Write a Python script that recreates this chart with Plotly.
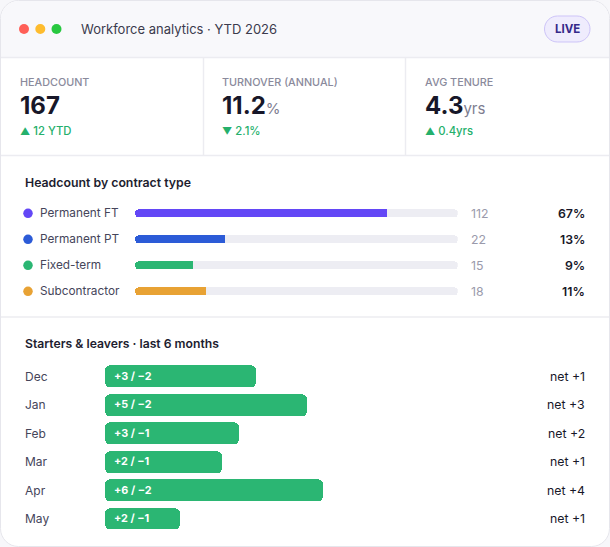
import plotly.graph_objects as go

W, H = 610, 547
def X(p): return p / W
def Y(p): return 1 - p / H

# ---------------- data ----------------
title_text = "Workforce analytics · YTD 2026"
badge_text = "LIVE"

kpi_labels = ["HEADCOUNT", "TURNOVER (ANNUAL)", "AVG TENURE"]
kpi_values = ["167", "11.2", "4.3"]
kpi_units = ["", "%", "yrs"]
kpi_deltas = ["12 YTD", "2.1%", "0.4yrs"]
kpi_arrows = ["▲", "▼", "▲"]

contract_title = "Headcount by contract type"
contract_types = ["Permanent FT", "Permanent PT", "Fixed-term", "Subcontractor"]
contract_counts = [112, 22, 15, 18]
contract_share = ["67%", "13%", "9%", "11%"]
contract_fill = [0.78, 0.28, 0.18, 0.22]
contract_colors = ["#6347f6", "#2c5bd7", "#2bb673", "#e8a234"]

moves_title = "Starters & leavers · last 6 months"
months = ["Dec", "Jan", "Feb", "Mar", "Apr", "May"]
starters = [3, 5, 3, 2, 6, 2]
leavers = [2, 2, 1, 1, 2, 1]
net_change = [1, 3, 2, 1, 4, 1]
move_bar = [50.2, 67.2, 44.7, 39.0, 72.6, 25.0]

# ---------------- styles ----------------
FONT = "Inter"
DARK = "#171729"
MID = "#45455a"
MUTED = "#8a8a9c"
GREEN = "#25b06c"
TRACK = "#ededf3"
BORDER = "#e6e6ec"
BAR_GREEN = "#2bb673"


def rrect(x0, y0, x1, y1, r, tl=True, tr=True, br=True, bl=True):
    k = 0.5523 * r
    def P(x, y): return f"{X(x):.6f},{Y(y):.6f}"
    s = f"M {P(x0 + (r if tl else 0), y0)} "
    s += f"L {P(x1 - (r if tr else 0), y0)} "
    if tr:
        s += f"C {P(x1 - r + k, y0)} {P(x1, y0 + r - k)} {P(x1, y0 + r)} "
    s += f"L {P(x1, y1 - (r if br else 0))} "
    if br:
        s += f"C {P(x1, y1 - r + k)} {P(x1 - r + k, y1)} {P(x1 - r, y1)} "
    s += f"L {P(x0 + (r if bl else 0), y1)} "
    if bl:
        s += f"C {P(x0 + r - k, y1)} {P(x0, y1 - r + k)} {P(x0, y1 - r)} "
    s += f"L {P(x0, y0 + (r if tl else 0))} "
    if tl:
        s += f"C {P(x0, y0 + r - k)} {P(x0 + r - k, y0)} {P(x0 + r, y0)} "
    return s + "Z"


fig = go.Figure()

# ---- contract bars ----
n = len(contract_types)
idx = list(range(n))
fig.add_trace(go.Bar(y=idx, x=[1] * n, base=[0] * n, orientation="h",
                     marker=dict(color=TRACK, cornerradius=4, line=dict(width=0)),
                     width=0.31, hoverinfo="skip", xaxis="x", yaxis="y"))
fig.add_trace(go.Bar(y=idx, x=contract_fill, base=[0] * n, orientation="h",
                     marker=dict(color=contract_colors, cornerradius=4, line=dict(width=0)),
                     width=0.31, hoverinfo="skip", xaxis="x", yaxis="y"))
# square cap at the end of the fill
fig.add_trace(go.Bar(y=idx, x=[0.02] * n, base=[f - 0.02 for f in contract_fill], orientation="h",
                     marker=dict(color=contract_colors, cornerradius=0, line=dict(width=0)),
                     width=0.31, hoverinfo="skip", xaxis="x", yaxis="y"))
# legend dots on full-width pixel axis
fig.add_trace(go.Scatter(x=[28] * n, y=idx, mode="markers", xaxis="x3", yaxis="y",
                         marker=dict(symbol="circle", size=9.5, color=contract_colors,
                                     line=dict(width=0)),
                         hoverinfo="skip", cliponaxis=False))

# ---- starters / leavers bars ----
m = len(months)
midx = list(range(m))
fig.add_trace(go.Bar(y=midx, x=move_bar, base=[0] * m, orientation="h",
                     marker=dict(color=BAR_GREEN, cornerradius=5, line=dict(width=0)),
                     width=0.77, hoverinfo="skip", xaxis="x2", yaxis="y2"))

shapes = []
shapes.append(dict(type="path", xref="paper", yref="paper", layer="below",
                   path=rrect(0.5, 0.5, 609.5, 546.5, 18),
                   fillcolor="#ffffff", line=dict(color=BORDER, width=1)))
shapes.append(dict(type="path", xref="paper", yref="paper", layer="below",
                   path=rrect(1, 1, 609, 57, 17.5, br=False, bl=False),
                   fillcolor="#f8f8fb", line=dict(width=0)))
for yy in [57.5, 155.5, 317]:
    shapes.append(dict(type="line", xref="paper", yref="paper", layer="below",
                       x0=X(1), x1=X(609), y0=Y(yy), y1=Y(yy),
                       line=dict(color="#ececf1", width=1.5)))
for xx in [203.5, 405.5]:
    shapes.append(dict(type="line", xref="paper", yref="paper", layer="below",
                       x0=X(xx), x1=X(xx), y0=Y(57.5), y1=Y(155.5),
                       line=dict(color="#ececf1", width=1.5)))
for cx, col in zip([24, 40.3, 56.5], ["#ff5f57", "#febc2e", "#28c840"]):
    shapes.append(dict(type="circle", xref="paper", yref="paper", layer="below",
                       x0=X(cx - 5), x1=X(cx + 5), y0=Y(29 - 5), y1=Y(29 + 5),
                       fillcolor=col, line=dict(width=0)))
shapes.append(dict(type="path", xref="paper", yref="paper", layer="below",
                   path=rrect(544.5, 16, 590, 42, 13),
                   fillcolor="#efecfd", line=dict(color="#cdc4f8", width=1)))

ann = []
def A(x, y, text, size, color, xanchor="left", weight=400, xref="paper", yref="paper", yanchor="middle"):
    ann.append(dict(x=x, y=y, xref=xref, yref=yref, text=text, showarrow=False,
                    xanchor=xanchor, yanchor=yanchor,
                    font=dict(family=FONT, size=size, color=color, weight=weight)))

A(X(79), Y(29), title_text, 13, "#3b3b4d")
A(X(567.3), Y(29.3), badge_text, 11.5, "#35298a", xanchor="center", weight=700)

kx = [19, 221, 424]
for i in range(3):
    A(X(kx[i] - 1), Y(82), kpi_labels[i], 10.8, MUTED, weight=500)
    unit = f"<span style='font-size:15px;color:#7d7d90;font-weight:400'>{kpi_units[i]}</span>" if kpi_units[i] else ""
    A(X(kx[i] - 1.5), Y(106), f"{kpi_values[i]}{unit}", 24, DARK, weight=700)
    A(X(kx[i] - 1), Y(131), f"<span style='font-size:10px'>{kpi_arrows[i]}</span> {kpi_deltas[i]}",
      11.3, GREEN, weight=500)

A(X(22.5), Y(182), contract_title, 12.3, "#1d1d2f", weight=600)
for i in range(n):
    A(X(37.5), i, contract_types[i], 11.8, MID, yref="y")
    A(X(468.5), i, str(contract_counts[i]), 12.3, "#9a9aab", yref="y")
    A(X(587), i, contract_share[i], 12.3, DARK, xanchor="right", weight=600, yref="y")

A(X(22.5), Y(343), moves_title, 12.2, "#1d1d2f", weight=600)
for i in range(m):
    A(X(22.5), i, months[i], 12, MID, yref="y2")
    A(X(112), i, f"+{starters[i]} / −{leavers[i]}", 10.8, "#ffffff", weight=700, yref="y2")
    A(X(586.5), i, f"net +{net_change[i]}", 12.3, DARK, xanchor="right", yref="y2")

hidden = dict(visible=False, showgrid=False, zeroline=False, fixedrange=True)
fig.update_layout(
    width=W, height=H, margin=dict(l=0, r=0, t=0, b=0),
    paper_bgcolor="#f7f7fa", plot_bgcolor="rgba(0,0,0,0)",
    showlegend=False, barmode="overlay", bargap=0,
    shapes=shapes, annotations=ann,
    xaxis=dict(domain=[X(135), X(457.7)], range=[0, 1], anchor="y", **hidden),
    yaxis=dict(domain=[Y(304.3), Y(200.3)], range=[n - 0.5, -0.5], anchor="x", **hidden),
    xaxis3=dict(domain=[0, 1], range=[0, W], anchor="y", **hidden),
    xaxis2=dict(domain=[X(105), X(405)], range=[0, 100], anchor="y2", **hidden),
    yaxis2=dict(domain=[Y(533), Y(362.3)], range=[m - 0.5, -0.5], anchor="x2", **hidden),
)

fig.write_html("out.html", config={"displayModeBar": False})
